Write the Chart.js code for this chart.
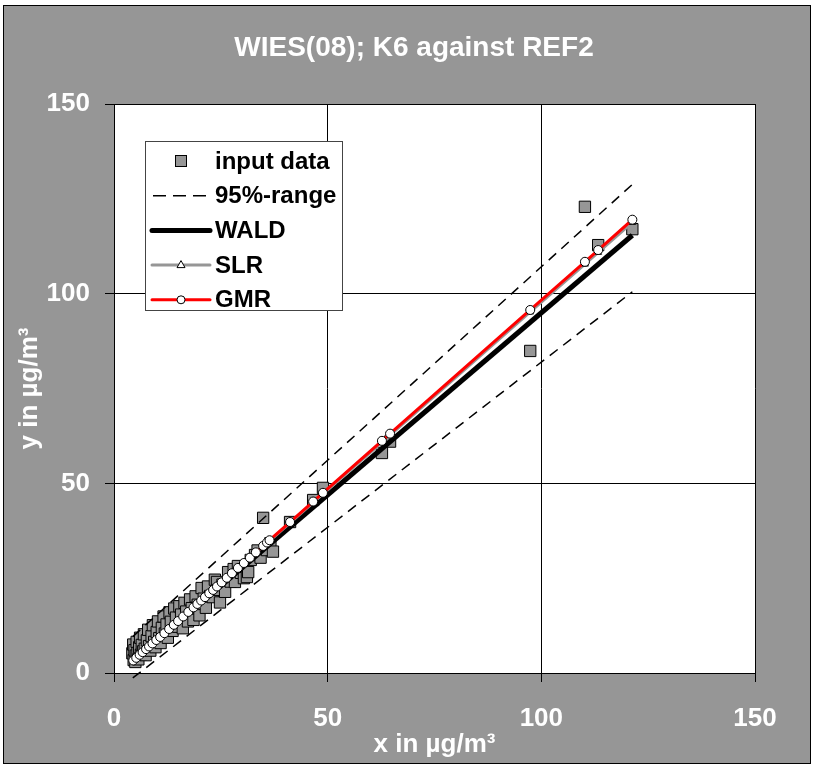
<!DOCTYPE html>
<html>
<head>
<meta charset="utf-8">
<script src="https://cdn.jsdelivr.net/npm/chart.js@4.4.1/dist/chart.umd.min.js"></script>
<style>
  html, body { margin: 0; padding: 0; background: #fff; }
  #box {
    position: absolute; left: 3px; top: 5px;
    width: 806px; height: 757px;
    border: 1px solid #000;
    background: #969696;
  }
</style>
</head>
<body>
<div id="box"><canvas id="chart"></canvas></div>
<script>
const titleText = 'WIES(08); K6 against REF2';
const xTitle = 'x in µg/m³';
const yTitle = 'y in µg/m³';
const tickValues = [0, 50, 100, 150];
const legendLabels = ['input data', '95%-range', 'WALD', 'SLR', 'GMR'];

// input data (reference x, candidate y)
const inputX = [4.3, 4.5, 4.6, 4.8, 5.0, 5.1, 5.3, 5.5, 5.7, 5.9, 6.1, 6.3, 6.5, 6.8, 7.0, 7.2, 7.4, 7.7, 8.0, 8.2,
  8.5, 8.8, 9.1, 9.4, 9.7, 10.0, 10.3, 10.6, 10.9, 11.2, 11.6, 11.9, 12.3, 12.6, 13.0, 13.3, 13.7, 14.1, 14.5, 14.9,
  15.3, 15.7, 16.1, 16.5, 16.9, 17.3, 17.8, 18.2, 18.6, 19.1, 19.6, 20.0, 20.5, 21.0, 21.5, 22.0, 22.5, 23.1, 23.6, 24.1,
  24.3, 24.8, 25.4, 26.0, 26.7, 27.3, 28.0, 28.3, 29.0, 29.7, 30.4, 31.1, 31.4, 32.0, 33.0, 33.6, 34.3, 34.9, 35.8, 36.6,
  37.2, 41.2, 46.6, 48.9, 62.7, 64.6, 97.4, 110.2, 113.3, 121.3];
const inputY = [5.2, 7.5, 3.4, 6.0, 2.9, 4.6, 8.2, 5.3, 3.6, 6.8, 9.3, 4.8, 7.4, 5.7, 10.2, 6.4, 4.7, 8.6, 11.4, 7.1,
  5.9, 9.7, 12.6, 8.2, 6.8, 10.8, 13.6, 9.2, 7.9, 11.9, 14.9, 10.4, 12.8, 9.3, 16.0, 13.5, 11.1, 17.0, 14.6, 12.2,
  17.6, 15.4, 11.8, 18.5, 16.2, 13.6, 19.4, 17.1, 14.0, 20.2, 18.0, 15.2, 22.4, 19.6, 17.2, 22.8, 20.3, 20.0, 24.6, 24.0,
  21.9, 18.6, 23.3, 21.4, 26.6, 24.1, 27.4, 24.0, 28.2, 26.4, 25.0, 25.3, 26.6, 29.8, 31.1, 32.3, 30.4, 40.9, 32.4, 34.2,
  32.0, 39.8, 45.6, 48.8, 58.0, 61.0, 84.9, 122.9, 112.8, 117.0];

// fitted values (circles / triangles)
const fitX = [4.5, 5.2, 6.0, 6.7, 7.5, 8.2, 9.0, 9.9, 10.8, 11.8, 12.9, 14.0, 15.0, 16.2, 17.4, 18.6, 19.5, 20.4, 21.3, 22.3,
  23.2, 24.1, 25.2, 26.4, 27.6, 29.0, 30.4, 31.8, 33.2, 34.9, 35.8, 36.4, 41.2, 46.6, 48.9, 62.7, 64.6, 97.4, 110.2, 113.3, 121.3];
const gmrY = [3.3, 4.0, 4.8, 5.5, 6.3, 7.0, 7.8, 8.7, 9.5, 10.5, 11.6, 12.7, 13.7, 14.9, 16.1, 17.3, 18.2, 19.1, 20.0, 21.0,
  21.9, 22.8, 23.9, 25.1, 26.3, 27.7, 29.0, 30.4, 31.8, 33.5, 34.4, 35.0, 39.8, 45.2, 47.5, 61.2, 63.1, 95.7, 108.4, 111.5, 119.5];
const slrY = [3.3, 4.0, 4.8, 5.5, 6.3, 6.9, 7.7, 8.6, 9.5, 10.5, 11.6, 12.6, 13.6, 14.8, 16.0, 17.2, 18.1, 19.0, 19.9, 20.9,
  21.8, 22.7, 23.8, 25.0, 26.1, 27.5, 28.9, 30.3, 31.7, 33.4, 34.2, 34.8, 39.6, 44.9, 47.2, 60.8, 62.7, 95.2, 107.8, 110.9, 118.8];

// WALD line and 95% range (end points)
const waldX = [4.5, 121.3];
const waldY = [3.3, 115.4];
const rangeX = [4.4, 121.3];
const upperY = [9.6, 128.8];
const lowerY = [-1.3, 100.5];

const pts = (xs, ys) => xs.map((x, i) => ({ x: x, y: ys[i] }));

const FONT = '"Liberation Sans", Arial, sans-serif';
const GRAY = '#969696';

const plotBg = {
  id: 'plotBg',
  beforeDraw(chart) {
    const a = chart.chartArea, ctx = chart.ctx;
    ctx.save();
    ctx.fillStyle = '#fff';
    ctx.fillRect(a.left, a.top, a.right - a.left, a.bottom - a.top);
    // title, centred on the whole figure
    ctx.fillStyle = '#fff';
    ctx.font = 'bold 28px ' + FONT;
    ctx.textAlign = 'center';
    ctx.textBaseline = 'middle';
    ctx.fillText(titleText, 410, 42);
    ctx.restore();
  }
};

const boxLegend = {
  id: 'boxLegend',
  afterDraw(chart) {
    const ctx = chart.ctx;
    const bx = 141, by = 135, bw = 197, bh = 169;
    ctx.save();
    ctx.fillStyle = '#fff';
    ctx.fillRect(bx, by, bw, bh);
    ctx.strokeStyle = '#444';
    ctx.lineWidth = 1;
    ctx.strokeRect(bx + 0.5, by + 0.5, bw, bh);
    const x0 = bx + 7, x1 = bx + 65, xm = (x0 + x1) / 2;
    legendLabels.forEach((label, i) => {
      const y = by + 20 + i * 34.7;
      ctx.setLineDash([]);
      if (i === 0) {
        ctx.fillStyle = GRAY;
        ctx.fillRect(xm - 5.5, y - 5.5, 11, 11);
        ctx.strokeStyle = '#000';
        ctx.strokeRect(xm - 5.5, y - 5.5, 11, 11);
      } else if (i === 1) {
        ctx.strokeStyle = '#000';
        ctx.lineWidth = 1.5;
        ctx.setLineDash([13, 7]);
        ctx.beginPath(); ctx.moveTo(x0 + 1, y); ctx.lineTo(x1, y); ctx.stroke();
      } else {
        ctx.strokeStyle = i === 2 ? '#000' : (i === 3 ? GRAY : '#ff0000');
        ctx.lineWidth = i === 2 ? 5 : 3;
        ctx.lineCap = 'round';
        ctx.beginPath(); ctx.moveTo(x0, y); ctx.lineTo(x1, y); ctx.stroke();
        ctx.lineCap = 'butt';
        ctx.lineWidth = 1;
        ctx.fillStyle = '#fff';
        ctx.strokeStyle = '#000';
        if (i === 3) {
          ctx.beginPath();
          ctx.moveTo(xm, y - 4.5); ctx.lineTo(xm + 4, y + 2.5); ctx.lineTo(xm - 4, y + 2.5); ctx.closePath();
          ctx.fill(); ctx.stroke();
        } else if (i === 4) {
          ctx.beginPath(); ctx.arc(xm, y, 4, 0, Math.PI * 2); ctx.fill(); ctx.stroke();
        }
      }
      ctx.setLineDash([]);
      ctx.fillStyle = '#000';
      ctx.font = 'bold 24px ' + FONT;
      ctx.textAlign = 'left';
      ctx.textBaseline = 'middle';
      ctx.fillText(label, bx + 70, y + 1);
    });
    ctx.restore();
  }
};

const axisBase = {
  type: 'linear',
  min: 0,
  max: 150,
  afterBuildTicks: (scale) => { scale.ticks = tickValues.map(v => ({ value: v })); },
  grid: { color: '#000', lineWidth: 1, drawTicks: true, tickLength: 9, tickColor: '#000' },
  border: { display: true, color: '#000', width: 1 }
};

new Chart(document.getElementById('chart'), {
  type: 'scatter',
  data: {
    datasets: [
      {
        label: legendLabels[0], data: pts(inputX, inputY),
        pointStyle: 'rect', pointRadius: 8, pointBackgroundColor: GRAY,
        pointBorderColor: '#000', pointBorderWidth: 1, order: 6
      },
      {
        label: legendLabels[1], data: pts(rangeX, upperY), showLine: true,
        borderColor: '#000', borderWidth: 1.5, borderDash: [10, 7], pointRadius: 0, order: 5, clip: false
      },
      {
        label: legendLabels[1], data: pts(rangeX, lowerY), showLine: true,
        borderColor: '#000', borderWidth: 1.5, borderDash: [10, 7], pointRadius: 0, order: 5, clip: false
      },
      {
        label: legendLabels[2], data: pts(waldX, waldY), showLine: true,
        borderColor: '#000', borderWidth: 5, pointRadius: 0, order: 4
      },
      {
        label: legendLabels[3], data: pts(fitX, slrY), showLine: true,
        borderColor: GRAY, borderWidth: 3, pointStyle: 'triangle', pointRadius: 4,
        pointBackgroundColor: '#fff', pointBorderColor: '#000', pointBorderWidth: 1, order: 3
      },
      {
        label: legendLabels[4], data: pts(fitX, gmrY), showLine: true,
        borderColor: '#ff0000', borderWidth: 3, pointStyle: 'circle', pointRadius: 4.5,
        pointBackgroundColor: '#fff', pointBorderColor: '#000', pointBorderWidth: 1, order: 2
      }
    ]
  },
  options: {
    responsive: true,
    maintainAspectRatio: false,
    animation: false,
    layout: { padding: { left: 0, right: 55, top: 98, bottom: 0 } },
    plugins: {
      legend: { display: false },
      tooltip: { enabled: false },
      title: { display: false }
    },
    scales: {
      x: {
        ...axisBase,
        position: 'bottom',
        afterFit: (scale) => { scale.height = 90; },
        ticks: { color: '#fff', font: { family: FONT, size: 26, weight: 'bold' }, padding: 21, maxRotation: 0 },
        title: { display: true, text: xTitle, color: '#fff', font: { family: FONT, size: 26, weight: 'bold' }, padding: { top: 0, bottom: 3 } }
      },
      y: {
        ...axisBase,
        position: 'left',
        afterFit: (scale) => { scale.width = 110; },
        ticks: { color: '#fff', font: { family: FONT, size: 26, weight: 'bold' }, padding: 15 },
        title: { display: true, text: yTitle, color: '#fff', font: { family: FONT, size: 26, weight: 'bold' }, padding: { top: 10, bottom: 0 } }
      }
    }
  },
  plugins: [plotBg, boxLegend]
});
</script>
</body>
</html>
